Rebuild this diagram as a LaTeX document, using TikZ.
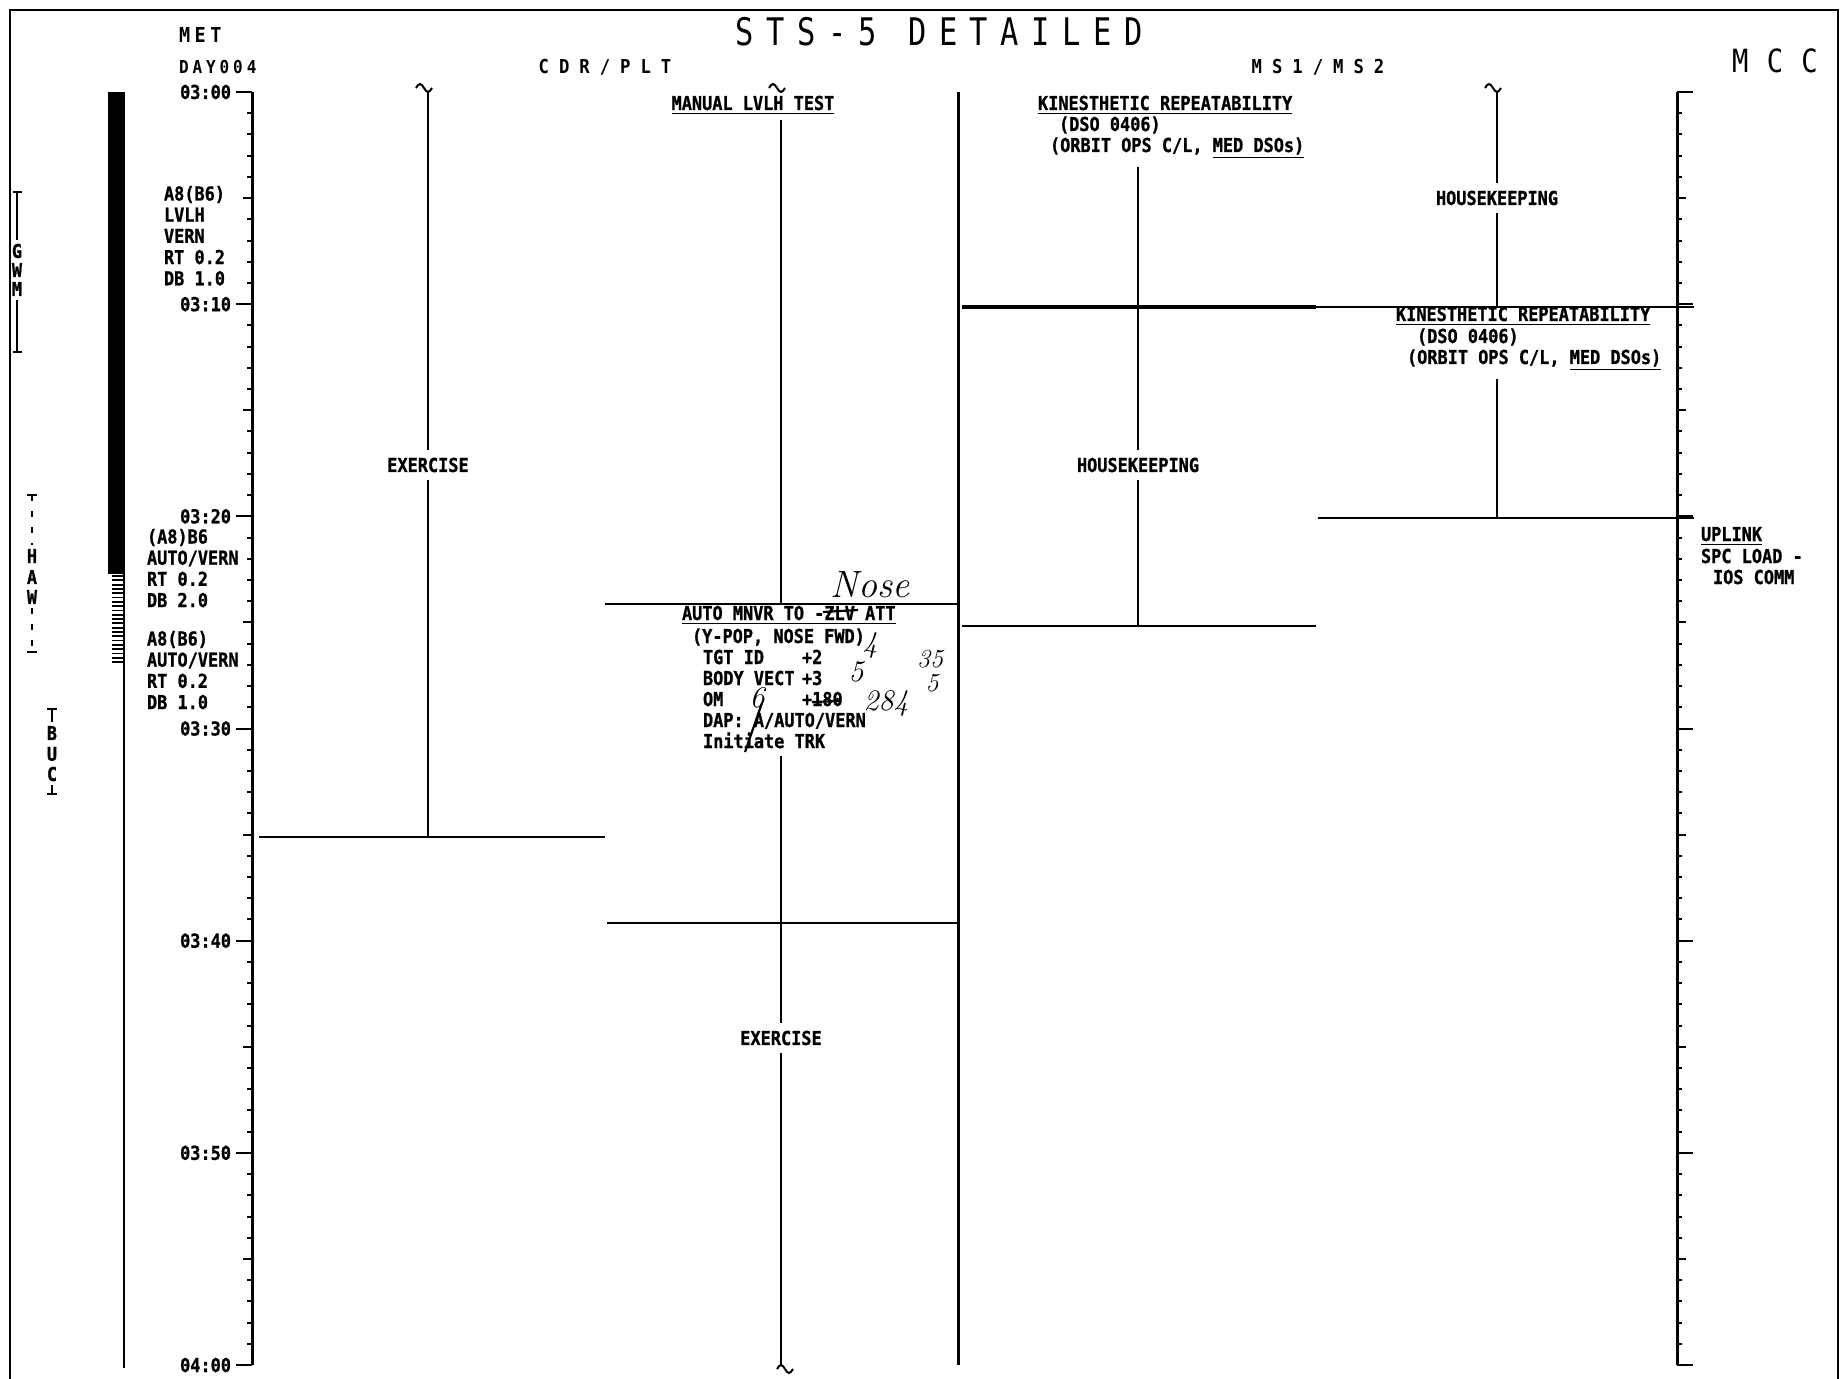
\documentclass[tikz,border=0pt]{standalone}
\usepackage{fontspec}
\newfontfamily\plotfont{DejaVu Sans Mono}[FakeStretch=0.88,FakeBold=1]
\newfontfamily\titlefont{DejaVu Sans Mono}[FakeStretch=0.8,LetterSpace=33]
\newfontfamily\colfont{DejaVu Sans Mono}[FakeStretch=0.9,LetterSpace=52]
\newfontfamily\metfont{DejaVu Sans Mono}[FakeStretch=0.9,LetterSpace=22]
\newfontfamily\mccfont{DejaVu Sans Mono}[FakeStretch=0.85,LetterSpace=57]
\usepackage{tikz}

\tikzset{tildemark/.pic={\draw[line width=1pt] (-12,-4) sin (-8,-8) cos (-4,-4) sin (0,0) cos (4,-4);}}

\begin{document}
\begin{tikzpicture}[x=.5pt,y=-.5pt,
  every node/.style={inner sep=0pt,outer sep=0pt},
  txt/.style={anchor=base west,font=\plotfont\bfseries\fontsize{9.6}{10.6}\selectfont},
  ctxt/.style={txt,anchor=base},
  onln/.style={txt,anchor=center,inner xsep=3pt,inner ysep=4pt},
  tlbl/.style={txt,anchor=east},
  stn/.style={anchor=center,inner ysep=2pt,font=\plotfont\bfseries\fontsize{9.5}{10}\selectfont},
  hand/.style={anchor=base,font=\normalfont\itshape\fontsize{15}{16}\selectfont},
  handline/.style={line width=1.1pt},
  frame/.style={line width=1.2pt},
  ruler/.style={line width=1.5pt},
  act/.style={line width=1.1pt},
  tick/.style={line width=1pt},
  station/.style={line width=0.9pt}]
\path[use as bounding box] (0,0) rectangle (1845,1379);
\fill[white] (0,0) rectangle (1845,1379);
\draw[frame] (10,1379) -- (10,10) -- (1838,10) -- (1838,1379);

\node[anchor=base,font=\titlefont\fontsize{19}{21}\selectfont] (title) at (939,46) {STS-5 DETAILED};
\node[anchor=base west,font=\metfont\bfseries\fontsize{10.3}{12}\selectfont] (met) at (179,43) {MET};
\node[anchor=base west,font=\metfont\bfseries\fontsize{8.9}{10}\selectfont] (day) at (179,74) {DAY004};
\node[anchor=base,font=\colfont\bfseries\fontsize{9.6}{11}\selectfont] (cdrplt) at (605,74) {CDR/PLT};
\node[anchor=base,font=\colfont\bfseries\fontsize{9.6}{11}\selectfont] (msms) at (1318,74) {MS1/MS2};
\node[anchor=base,font=\mccfont\fontsize{16}{18}\selectfont] (mcc) at (1775,73) {MCC};

\draw[ruler] (252,92) -- (252,1365);
\foreach \m in {0,...,60} \draw[tick] (252,{92+21.217*\m}) -- ++(-5,0);
\foreach \m in {5,15,...,55} \draw[tick] (252,{92+21.217*\m}) -- ++(-9,0);
\foreach \m in {0,10,...,60} \draw[tick] (252,{92+21.217*\m}) -- ++(-16,0);
\foreach \m/\t in {0/03:00,10/03:10,20/03:20,30/03:30,40/03:40,50/03:50,60/04:00}
  \node[tlbl] (time\m) at (231,{92+21.217*\m}) {\t};

\draw[ruler] (1677,92) -- (1677,1365);
\foreach \m in {0,...,60} \draw[tick] (1677,{92+21.217*\m}) -- ++(5,0);
\foreach \m in {5,15,...,55} \draw[tick] (1677,{92+21.217*\m}) -- ++(9,0);
\foreach \m in {0,10,...,60} \draw[tick] (1677,{92+21.217*\m}) -- ++(16,0);

\fill (108,92) rectangle (125,574);
\foreach \k in {0,...,20} \draw[line width=0.9pt] (112,{576+4.3*\k}) -- (125,{576+4.3*\k});
\draw[line width=1pt] (124,574) -- (124,1368);

\coordinate (gwmtop) at (17,192);
\coordinate (gwmbot) at (17,352);
\node[stn] (gwmG) at (17,251) {G};
\node[stn] (gwmW) at (17,270) {W};
\node[stn] (gwmM) at (17,289) {M};
\draw[station] (gwmtop) -- (gwmG);
\draw[station] (gwmM) -- (gwmbot);
\draw[station] (gwmtop) +(-4,0) -- +(5,0);
\draw[station] (gwmbot) +(-4,0) -- +(5,0);

\coordinate (hawtop) at (32,495);
\coordinate (hawbot) at (32,652);
\node[stn] (hawH) at (32,556) {H};
\node[stn] (hawA) at (32,577) {A};
\node[stn] (hawW) at (32,597) {W};
\draw[station,dash pattern=on 3pt off 5pt] (hawtop) -- (hawH);
\draw[station,dash pattern=on 3pt off 5pt] (hawW) -- (hawbot);
\draw[station] (hawtop) +(-5,0) -- +(5,0);
\draw[station] (hawbot) +(-5,0) -- +(5,0);

\coordinate (buctop) at (52,709);
\coordinate (bucbot) at (52,794);
\node[stn] (bucB) at (52,733) {B};
\node[stn] (bucU) at (52,754) {U};
\node[stn] (bucC) at (52,774) {C};
\draw[station] (buctop) -- (bucB);
\draw[station] (bucC) -- (bucbot);
\draw[station] (buctop) +(-5,0) -- +(5,0);
\draw[station] (bucbot) +(-5,0) -- +(5,0);

\foreach \t [count=\i] in {A8(B6),LVLH,VERN,RT 0.2,DB 1.0}
  \node[txt] (atta\i) at (164,{179.3+21.2*\i}) {\t};
\foreach \t [count=\i] in {(A8)B6,AUTO/VERN,RT 0.2,DB 2.0}
  \node[txt] (attb\i) at (147,{522.3+21.2*\i}) {\t};
\foreach \t [count=\i] in {A8(B6),AUTO/VERN,RT 0.2,DB 1.0}
  \node[txt] (attc\i) at (147,{624.3+21.2*\i}) {\t};

\coordinate (cdrtop) at (428,92);
\coordinate (cdrend) at (428,837);
\coordinate (cdrendL) at (259,837);
\coordinate (cdrendR) at (605,837);
\pic at (cdrtop) {tildemark};
\node[onln] (cdrex) at (428,465) {EXERCISE};
\draw[act] (cdrtop) -- (cdrex) -- (cdrend);
\draw[act] (cdrendL) -- (cdrendR);

\coordinate (plttop) at (781,92);
\coordinate (pltsw) at (781,604);
\coordinate (pltL) at (605,604);
\coordinate (pltR) at (958,604);
\coordinate (plt2L) at (607,923);
\coordinate (plt2R) at (958,923);
\coordinate (pltbot) at (781,1365);
\pic at (plttop) {tildemark};
\pic[rotate=180] at (pltbot) {tildemark};
\node[ctxt,outer ysep=3pt] (manual) at (753,110) {\underline{MANUAL LVLH TEST}};
\draw[act] (manual.south -| pltsw) -- (pltsw);
\draw[act] (pltL) -- (pltR);
\node[txt] (auto1) at (682,620) {\underline{AUTO MNVR TO -ZLV ATT}};
\node[txt] (auto2) at (692,643) {(Y-POP, NOSE FWD)};
\node[txt] (auto3) at (703,664) {TGT ID};
\node[txt] (auto3v) at (802,664) {+2};
\node[txt] (auto4) at (703,685) {BODY VECT};
\node[txt] (auto4v) at (802,685) {+3};
\node[txt] (auto5) at (703,706) {OM};
\node[txt] (auto5v) at (802,706) {+180};
\node[txt] (auto6) at (703,727) {DAP: A/AUTO/VERN};
\node[txt,outer ysep=4pt] (auto7) at (703,748) {Initiate TRK};
\node[onln] (pltex) at (781,1038) {EXERCISE};
\draw[act] (auto7.south -| pltsw) -- (pltex) -- (pltbot);
\draw[act] (plt2L) -- (plt2R);

\node[hand,font=\normalfont\itshape\fontsize{19}{20}\selectfont] (hnose) at (870,597) {Nose};
\node[hand] (hfour) at (870,652) {4};
\node[hand] (hfive) at (856,681) {5};
\node[hand,font=\normalfont\itshape\fontsize{13}{14}\selectfont] (hthirty) at (930,667) {35};
\node[hand,font=\normalfont\itshape\fontsize{13}{14}\selectfont] (hfiveb) at (932,691) {5};
\node[hand] (hsix) at (757,707) {6};
\node[hand] (htwo) at (886,710) {284};
\draw[handline] (823,612) -- (858,610);
\draw[handline] (812,702) -- (840,701);
\draw[handline] (762,703) -- (745,752);

\coordinate (divtop) at (958,92);
\coordinate (divbot) at (958,1365);
\draw[ruler] (divtop) -- (divbot);

\coordinate (ms1x) at (1138,626);
\coordinate (ms1aL) at (962,307);
\coordinate (ms1aR) at (1316,307);
\coordinate (ms2aR) at (1694,307);
\coordinate (ms1bL) at (962,626);
\coordinate (ms1bR) at (1316,626);
\node[txt] (ms1k1) at (1038,110) {\underline{KINESTHETIC REPEATABILITY}};
\node[txt] (ms1k2) at (1059,131) {(DSO 0406)};
\node[txt,outer ysep=4pt] (ms1k3) at (1050,152) {(ORBIT OPS C/L, \underline{MED DSOs)}};
\node[onln] (ms1hk) at (1138,465) {HOUSEKEEPING};
\draw[act] (ms1k3.south -| ms1x) -- (ms1hk) -- (ms1x);
\draw[line width=1.6pt] (ms1aL) -- (ms1aR);
\draw[act] (ms1aR) -- (ms2aR);
\draw[act] (ms1bL) -- (ms1bR);

\coordinate (ms2top) at (1497,92);
\coordinate (ms2mid) at (1497,307);
\coordinate (ms2end) at (1497,518);
\coordinate (ms2bL) at (1318,518);
\coordinate (ms2bR) at (1694,518);
\pic at (ms2top) {tildemark};
\node[onln] (ms2hk) at (1497,198) {HOUSEKEEPING};
\node[txt] (ms2k1) at (1396,321) {\underline{KINESTHETIC REPEATABILITY}};
\node[txt] (ms2k2) at (1417,343) {(DSO 0406)};
\node[txt,outer ysep=4pt] (ms2k3) at (1407,364) {(ORBIT OPS C/L, \underline{MED DSOs)}};
\draw[act] (ms2top) -- (ms2hk) -- (ms2mid);
\draw[act] (ms2k3.south -| ms2end) -- (ms2end);
\draw[act] (ms2bL) -- (ms2bR);

\node[txt] (up1) at (1701,541) {\underline{UPLINK}};
\node[txt] (up2) at (1701,563) {SPC LOAD -};
\node[txt] (up3) at (1713,584) {IOS COMM};
\end{tikzpicture}
\end{document}
